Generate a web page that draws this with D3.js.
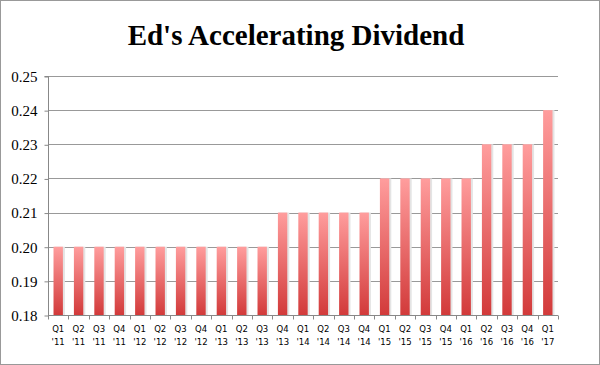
<!DOCTYPE html>
<html><head><meta charset="utf-8">
<script src="https://cdn.jsdelivr.net/npm/d3@7"></script>
<style>body{margin:0;background:#fff}svg{display:block}</style>
</head><body>
<script>
const quarters = ["Q1","Q2","Q3","Q4","Q1","Q2","Q3","Q4","Q1","Q2","Q3","Q4","Q1","Q2","Q3","Q4","Q1","Q2","Q3","Q4","Q1","Q2","Q3","Q4","Q1"];
const years = ["'11","'11","'11","'11","'12","'12","'12","'12","'13","'13","'13","'13","'14","'14","'14","'14","'15","'15","'15","'15","'16","'16","'16","'16","'17"];
const dividends = [0.20,0.20,0.20,0.20,0.20,0.20,0.20,0.20,0.20,0.20,0.20,0.21,0.21,0.21,0.21,0.21,0.22,0.22,0.22,0.22,0.22,0.23,0.23,0.23,0.24];
const yTicks = [0.18,0.19,0.20,0.21,0.22,0.23,0.24,0.25];
const title = "Ed's Accelerating Dividend";

const W = 600, H = 365;
const m = {left:48, right:42, top:76, bottom:50};
const svg = d3.select("body").append("svg").attr("width", W).attr("height", H);

svg.append("rect").attr("x",0.5).attr("y",0.5).attr("width",W-1).attr("height",H-1)
  .attr("fill","#fff").attr("stroke","#999");

const defs = svg.append("defs");
const g = defs.append("linearGradient").attr("id","barg").attr("x1",0).attr("y1",0).attr("x2",0).attr("y2",1);
g.append("stop").attr("offset","0%").attr("stop-color","#ff9d9d");
g.append("stop").attr("offset","100%").attr("stop-color","#d23a3a");

const idx = d3.range(dividends.length);
const x = d3.scaleBand().domain(idx).range([m.left, W-m.right]).paddingInner(0.54).paddingOuter(0.27);
const y = d3.scaleLinear().domain([0.18,0.25]).range([H-m.bottom, m.top]);

// gridlines
svg.append("g").selectAll("line").data(yTicks.slice(1)).join("line")
  .attr("x1", m.left).attr("x2", W-m.right)
  .attr("y1", d=>Math.round(y(d))+0.5).attr("y2", d=>Math.round(y(d))+0.5)
  .attr("stroke","#999").attr("stroke-width",1);

// y axis
const yAxis = d3.axisLeft(y).tickValues(yTicks).tickFormat(d3.format(".2f")).tickSize(4).tickPadding(7);
const ya = svg.append("g").attr("transform",`translate(${m.left+0.5},0.5)`).call(yAxis);
ya.select(".domain").attr("stroke","#888").attr("d",`M-4,${y(0.25)}H0V${y(0.18)}`);
ya.selectAll(".tick line").attr("stroke","#888");
ya.selectAll(".tick text").attr("font-family","'Liberation Serif', 'DejaVu Serif', serif")
  .attr("font-size",15).attr("fill","#000");

// bars shadow + bars
svg.append("g").selectAll("rect").data(idx).join("rect")
  .attr("x", i=>x(i)+1).attr("y", i=>y(dividends[i])).attr("width", x.bandwidth()+1)
  .attr("height", i=>y(0.18)-y(dividends[i])).attr("fill","#e4e4e4");
svg.append("g").selectAll("rect").data(idx).join("rect")
  .attr("x", i=>x(i)).attr("y", i=>y(dividends[i])).attr("width", x.bandwidth())
  .attr("height", i=>y(0.18)-y(dividends[i])).attr("fill","url(#barg)");

// x axis
const xa = svg.append("g").attr("transform",`translate(0,${Math.round(y(0.18))+0.5})`);
xa.append("line").attr("x1",m.left).attr("x2",W-m.right).attr("stroke","#888");
const bounds = d3.range(dividends.length+1).map(i => m.left + i*(W-m.left-m.right)/dividends.length);
xa.selectAll("line.t").data(bounds).join("line").attr("class","t")
  .attr("x1",d=>Math.round(d)+0.5).attr("x2",d=>Math.round(d)+0.5).attr("y1",0).attr("y2",4).attr("stroke","#888");
const lab = xa.selectAll("text").data(idx).join("text")
  .attr("text-anchor","middle").attr("font-family","'DejaVu Sans', Verdana, sans-serif")
  .attr("font-size",8.5).attr("fill","#000");
lab.append("tspan").attr("x", i=>x(i)+x.bandwidth()/2).attr("y",16).text(i=>quarters[i]);
lab.append("tspan").attr("x", i=>x(i)+x.bandwidth()/2).attr("y",29).text(i=>years[i]);

svg.append("text").attr("x",296).attr("y",45).attr("text-anchor","middle")
  .attr("font-family","'Liberation Serif', 'DejaVu Serif', serif").attr("font-weight","bold")
  .attr("font-size",29).attr("fill","#000").text(title);
</script>
</body></html>
